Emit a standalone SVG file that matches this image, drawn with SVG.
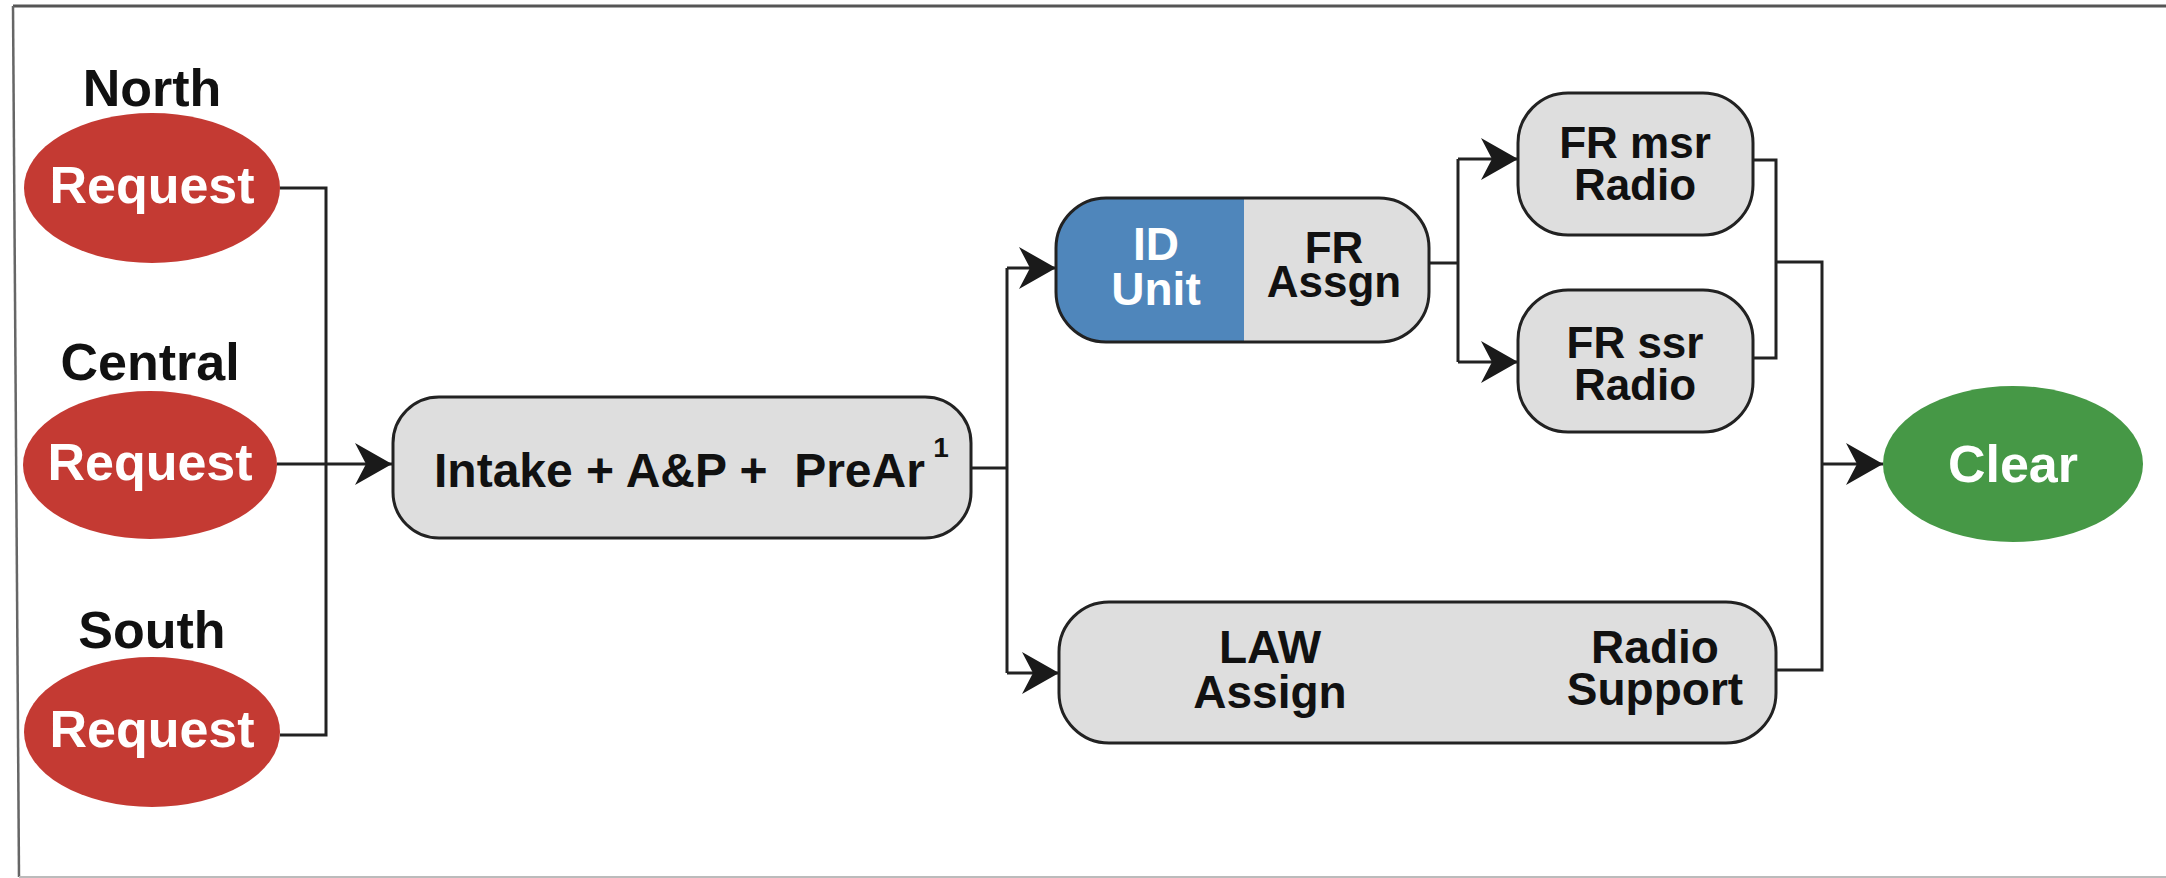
<svg xmlns="http://www.w3.org/2000/svg" width="2166" height="878" viewBox="0 0 2166 878">
<style>
text{font-family:"Liberation Sans",Arial,Helvetica,sans-serif;font-weight:bold;text-anchor:middle;fill:#111}
.w{fill:#fff}
.box{fill:#dedede;stroke:#222;stroke-width:3}
.red{fill:#c43a33}
.conn path{fill:none;stroke:#222;stroke-width:3}
.arr{marker-end:url(#ah)}
</style>
<defs>
<marker id="ah" markerUnits="userSpaceOnUse" markerWidth="38" markerHeight="42" refX="37" refY="21" orient="auto" viewBox="0 0 38 42">
<path d="M0,0 L37,21 L0,42 L11,21 Z" fill="#1a1a1a"/>
</marker>
<clipPath id="idclip"><rect x="1056" y="198" width="188" height="144"/></clipPath>
</defs>
<rect x="0" y="0" width="2166" height="878" fill="#fff"/>
<g id="frame" fill="none">
<path d="M13,6 H2166" stroke="#555" stroke-width="3"/>
<path d="M13,6 L19,877" stroke="#666" stroke-width="2.5"/>
<path d="M19,877 H2166" stroke="#bbb" stroke-width="2"/>
</g>
<g class="conn" id="connectors">
<path d="M280,188 H326 V735 H280"/>
<path class="arr" d="M277,464 H392"/>
<path d="M971,468 H1007"/>
<path d="M1007,268 V673"/>
<path class="arr" d="M1007,268 H1056"/>
<path class="arr" d="M1007,673 H1059"/>
<path d="M1429,263 H1458"/>
<path d="M1458,159 V362"/>
<path class="arr" d="M1458,159 H1518"/>
<path class="arr" d="M1458,362 H1518"/>
<path d="M1753,160 H1776 V358 H1753"/>
<path d="M1776,262 H1822 V670 H1776"/>
<path class="arr" d="M1822,464 H1883"/>
</g>
<g id="north">
<text x="152" y="106" font-size="52">North</text>
<ellipse class="red" cx="152" cy="188" rx="128" ry="75"/>
<text class="w" x="152" y="203" font-size="52">Request</text>
</g>
<g id="central">
<text x="150" y="380" font-size="52">Central</text>
<ellipse class="red" cx="150" cy="465" rx="127" ry="74"/>
<text class="w" x="150" y="480" font-size="52">Request</text>
</g>
<g id="south">
<text x="152" y="648" font-size="52">South</text>
<ellipse class="red" cx="152" cy="732" rx="128" ry="75"/>
<text class="w" x="152" y="747" font-size="52">Request</text>
</g>
<g id="intake">
<rect class="box" x="393" y="397" width="578" height="141" rx="46" ry="46"/>
<text x="434" y="487" font-size="48" style="text-anchor:start" xml:space="preserve">Intake + A&amp;P +  PreAr</text>
<text x="941" y="457" font-size="28">1</text>
</g>
<g id="idunit">
<rect x="1056" y="198" width="373" height="144" rx="50" ry="50" fill="#dedede"/>
<rect x="1056" y="198" width="373" height="144" rx="50" ry="50" fill="#4f86bb" clip-path="url(#idclip)"/>
<rect x="1056" y="198" width="373" height="144" rx="50" ry="50" fill="none" stroke="#222" stroke-width="3"/>
<text class="w" x="1156" y="260" font-size="46">ID</text>
<text class="w" x="1156" y="305" font-size="46">Unit</text>
<text x="1334" y="263" font-size="44">FR</text>
<text x="1334" y="297" font-size="44">Assgn</text>
</g>
<g id="frmsr">
<rect class="box" x="1518" y="93" width="235" height="142" rx="50" ry="50"/>
<text x="1635" y="158" font-size="44">FR msr</text>
<text x="1635" y="200" font-size="44">Radio</text>
</g>
<g id="frssr">
<rect class="box" x="1518" y="290" width="235" height="142" rx="50" ry="50"/>
<text x="1635" y="358" font-size="44">FR ssr</text>
<text x="1635" y="400" font-size="44">Radio</text>
</g>
<g id="law">
<rect class="box" x="1059" y="602" width="717" height="141" rx="50" ry="50"/>
<text x="1270" y="663" font-size="46">LAW</text>
<text x="1270" y="708" font-size="46">Assign</text>
<text x="1655" y="663" font-size="46">Radio</text>
<text x="1655" y="705" font-size="46">Support</text>
</g>
<g id="clear">
<ellipse cx="2013" cy="464" rx="130" ry="78" fill="#469846"/>
<text class="w" x="2013" y="482" font-size="52">Clear</text>
</g>
</svg>
